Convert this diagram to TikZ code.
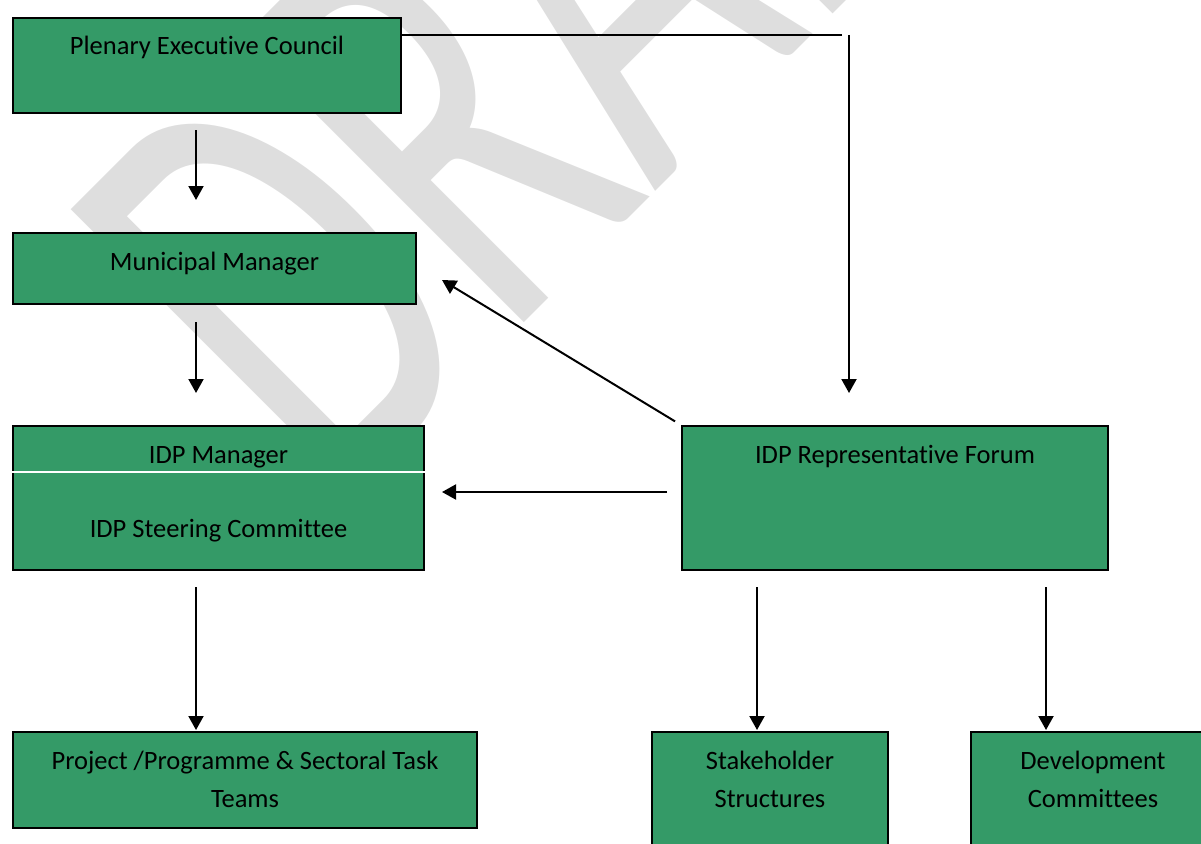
\documentclass[tikz,border=0pt]{standalone}
\usepackage{fontspec}
\setmainfont{Carlito}[Ligatures=NoCommon]
\usepackage{tikz}
\usetikzlibrary{arrows.meta}
\definecolor{orggreen}{HTML}{349A67}
\definecolor{wmgray}{HTML}{DEDEDE}
\tikzset{
  orgbox/.style={draw=black, line width=2pt, fill=orggreen, anchor=north west,
                 inner sep=0pt, align=center, text height=37pt,
                 font=\fontsize{26.5}{38.5}\selectfont},
  arr/.style={-{Triangle[length=14pt,width=15pt]}, line width=2pt},
  link/.style={line width=1.6pt}}

\begin{document}
\begin{tikzpicture}[x=1pt, y=-1pt]
  \useasboundingbox (0,0) rectangle (1201,843);
  \clip (0,0) rectangle (1201,843);
  % watermark
  \node[text=wmgray, font=\fontsize{390}{390}\selectfont, inner sep=0pt,
        anchor=base west, rotate=45, yscale=1.6] (draft) at (335,512) {DRAFT};

  \node[orgbox, minimum width=388pt, text depth=58pt] (pec) at (12,17) {Plenary Executive Council};
  \node[orgbox, minimum width=403pt, text depth=34pt] (mm) at (12,232) {Municipal Manager};
  \node[orgbox, minimum width=411pt, text height=111.5pt, text depth=32.5pt] (idp) at (12,425)
    {IDP Manager\\[36pt]IDP Steering Committee};
  \node[orgbox, minimum width=426pt, text depth=107pt] (irf) at (681,425) {IDP Representative Forum};
  \node[orgbox, minimum width=464pt, text height=75.5pt, text depth=20.5pt] (ptt) at (12,731)
    {Project /Programme \& Sectoral Task\\Teams};
  \node[orgbox, minimum width=236pt, text height=75.5pt, text depth=54.5pt] (shs) at (651,731)
    {Stakeholder\\Structures};
  \node[orgbox, minimum width=244pt, text height=75.5pt, text depth=54.5pt] (dvc) at (970,731)
    {Development\\Committees};

  % columns of the arrows
  \coordinate (leftcol) at (196,0);
  \coordinate (stakecol) at (757,0);
  \coordinate (devcol) at (1046,0);
  \coordinate (bend) at (849,35);

  \draw[white, line width=1.5pt] ([yshift=-47pt]idp.north west) -- ([yshift=-47pt]idp.north east);

  \draw[arr, shorten <=16pt, shorten >=32pt] (pec.south -| leftcol) -- (mm.north -| leftcol);
  \draw[arr, shorten <=17pt, shorten >=32pt] (mm.south -| leftcol) -- (idp.north -| leftcol);
  \draw[arr, shorten <=16pt, shorten >=1pt] (idp.south -| leftcol) -- (ptt.north -| leftcol);
  \draw[arr, shorten <=16pt, shorten >=1pt] (irf.south -| stakecol) -- (shs.north -| stakecol);
  \draw[arr, shorten <=16pt, shorten >=1pt] (irf.south -| devcol) -- (dvc.north -| devcol);

  \draw[link] (pec.east |- bend) -- ([xshift=-7pt]bend);
  \draw[arr, shorten >=32pt] (bend) -- (irf.north -| bend);
  \draw[arr, shorten <=7pt] (irf.north west) -- ([xshift=25pt,yshift=25pt]mm.south east);
  \draw[arr, shorten <=14pt, shorten >=17pt] ([yshift=6pt]irf.west) -- ([yshift=6pt]idp.east);
\end{tikzpicture}
\end{document}
